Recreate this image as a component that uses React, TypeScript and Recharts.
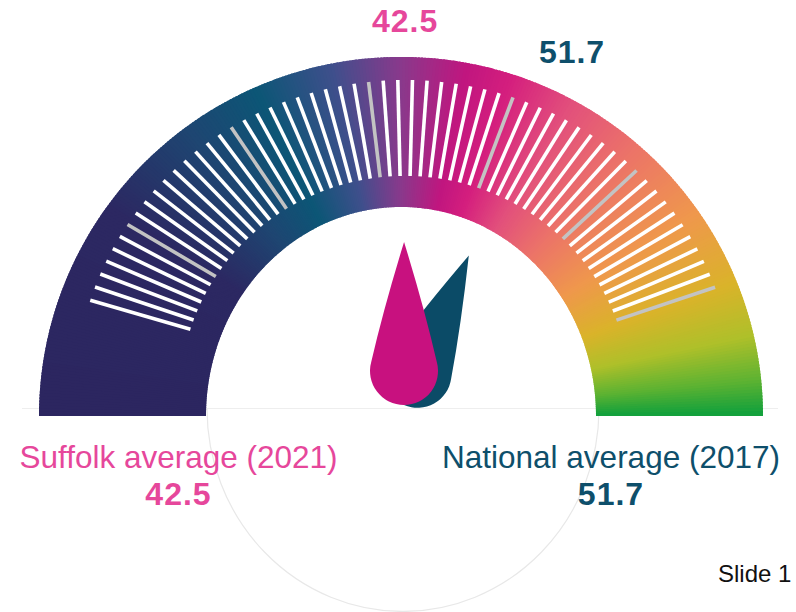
import React from 'react';
import { PieChart, Pie, RadialBarChart, RadialBar, PolarAngleAxis, Customized } from 'recharts';

// gauge readings
const gaugeNames = ['Suffolk average (2021)', 'National average (2017)'];
const gaugeValues = [42.5, 51.7];
const labelColors = ['#e6479b', '#0e4f6b'];
const needleColors = ['#c8117f', '#0b4b67'];

// dial scale: one tick per unit, grey tick every 10
const scaleMin = 14;
const scaleMax = 70;
const majorStep = 10;
const tickValues = Array.from({ length: scaleMax - scaleMin + 1 }, (_, i) => scaleMin + i);

// colour ramp of the dial band, left to right
const bandStopOffsets = [0, 0.2, 0.3, 0.37, 0.44, 0.5, 0.56, 0.6, 0.66, 0.73, 0.81, 0.88, 0.93, 0.97, 1];
const bandStopColors = [
  '#2c2660', '#2c2862', '#1e4672', '#0c5676', '#3f4f8c', '#883a8c', '#c0167f', '#d41e7e',
  '#e2507c', '#ec7468', '#ef984c', '#dab32a', '#aec02a', '#5cb232', '#10a03c',
];

const slideLabel = 'Slide 1';

const W = 796;
const H = 612;
const FONT = '"Liberation Sans", Arial, sans-serif';
const NO_MARGIN = { top: 0, right: 0, bottom: 0, left: 0 };

const rows = gaugeNames
  .map((name, i) => ({ name, value: gaugeValues[i], text: labelColors[i], fill: needleColors[i] }))
  .reverse(); // national drop sits behind the suffolk one

const rad = (deg: number) => (deg * Math.PI) / 180;

const hexToRgb = (hex: string) => [1, 3, 5].map((k) => parseInt(hex.slice(k, k + 2), 16));

const rampColor = (t: number) => {
  let i = 0;
  while (i < bandStopOffsets.length - 2 && t > bandStopOffsets[i + 1]) i++;
  const span = bandStopOffsets[i + 1] - bandStopOffsets[i];
  const f = Math.min(1, Math.max(0, (t - bandStopOffsets[i]) / span));
  const a = hexToRgb(bandStopColors[i]);
  const b = hexToRgb(bandStopColors[i + 1]);
  const c = a.map((v, k) => Math.round(v + (b[k] - v) * f));
  return `rgb(${c[0]},${c[1]},${c[2]})`;
};

// band drawn as many thin slices so the colour follows the angle
const BandShape = (props: any) => {
  const { cx, cy, startAngle, endAngle, innerRadius, outerRadius } = props;
  const orx = outerRadius;
  const ory = outerRadius * 0.992;
  const irx = innerRadius;
  const iry = innerRadius * 1.072;
  const steps = 360;
  const total = startAngle - endAngle;
  const pt = (a: number, rx: number, ry: number) =>
    `${cx + rx * Math.cos(rad(a))} ${cy - ry * Math.sin(rad(a))}`;
  const parts = [];
  for (let s = 0; s < steps; s++) {
    const a0 = startAngle - (total * s) / steps + (s === 0 ? 0 : 0.3);
    const a1 = startAngle - (total * (s + 1)) / steps;
    const t = (s + 0.5) / steps;
    const d = `M ${pt(a0, orx, ory)} A ${orx} ${ory} 0 0 1 ${pt(a1, orx, ory)} L ${pt(a1, irx, iry)} A ${irx} ${iry} 0 0 0 ${pt(a0, irx, iry)} Z`;
    parts.push(<path key={s} d={d} fill={rampColor(t)} />);
  }
  return <g>{parts}</g>;
};

// white ground under the dial, faint base line and the lower rim of the hub
const Backdrop = () => (
  <g>
    <rect x={0} y={408.5} width={W} height={H - 408.5} fill="#ffffff" />
    <line x1={22} y1={408.5} x2={778} y2={408.5} stroke="#eeeeee" strokeWidth={1.2} />
    <path d="M 207 408.5 A 196 203 0 0 0 599 408.5" fill="none" stroke="#e8e8e8" strokeWidth={1.2} />
    {rows
      .slice()
      .reverse()
      .map((r, i) => {
        const x = i === 0 ? 178.5 : 611;
        return (
          <g key={r.name} fontFamily={FONT} fill={r.text} textAnchor="middle">
            <text x={x} y={468} fontSize={31.5}>
              {r.name}
            </text>
            <text x={x} y={505} fontSize={32} fontWeight="bold" letterSpacing={1}>
              {r.value}
            </text>
          </g>
        );
      })}
    <text x={718} y={582} fontFamily={FONT} fontSize={24} fill="#111111">
      {slideLabel}
    </text>
  </g>
);

// dial ticks sit on an ellipse around the chart centre
const TickMark = (props: any) => {
  const { payload, cx = 405, cy = 395 } = props;
  const a = rad(payload.coordinate);
  const major = (payload.value - scaleMin) % majorStep === 6;
  const c = Math.cos(a);
  const s = Math.sin(a);
  return (
    <line
      x1={cx + 225 * c}
      y1={cy - 219 * s}
      x2={cx + 330 * c}
      y2={cy - 315 * s}
      stroke={major ? '#c3c3c3' : '#ffffff'}
      strokeWidth={3.6}
    />
  );
};

// drop-shaped pointer turned to the bar's end angle, value printed beyond the rim
const Needle = (props: any) => {
  const { cx, cy, endAngle, payload } = props;
  const px = cx - 1;
  const py = cy + 10;
  const L = 163;
  const R = 34;
  const d = L - R;
  const cosPhi = R / d;
  const sinPhi = Math.sqrt(1 - cosPhi * cosPhi);
  const tx = R * sinPhi;
  const ty = py - R - R * cosPhi;
  // sides bow out slightly between tip and bulb
  const mx = tx * 0.62;
  const my = (py - L + ty) / 2 + 6;
  const path =
    `M ${px} ${py - L} Q ${px + mx} ${my} ${px + tx} ${ty} ` +
    `A ${R} ${R} 0 1 1 ${px - tx} ${ty} Q ${px - mx} ${my} ${px} ${py - L} Z`;
  const tilt = 90 - endAngle;
  const lx = cx + 420 * Math.cos(rad(endAngle));
  const ly = cy - 374 * Math.sin(rad(endAngle));
  return (
    <g>
      <path d={path} fill={payload.fill} transform={`rotate(${tilt} ${px} ${py})`} />
      <text
        x={lx}
        y={ly + 11}
        textAnchor="middle"
        fontFamily={FONT}
        fontSize={32}
        fontWeight="bold"
        letterSpacing={1}
        fill={payload.text}
      >
        {payload.value}
      </text>
    </g>
  );
};

export default function App() {
  return (
    <div style={{ position: 'absolute', left: 0, top: 0, width: W, height: H, background: '#ffffff' }}>
      <div style={{ position: 'absolute', left: 0, top: 0 }}>
        <PieChart width={W} height={H} margin={NO_MARGIN}>
          <Pie
            data={[{ name: 'track', value: 1 }]}
            dataKey="value"
            cx={401}
            cy={416}
            startAngle={180}
            endAngle={0}
            innerRadius={195}
            outerRadius={362}
            stroke="none"
            shape={BandShape}
            activeShape={BandShape}
            inactiveShape={BandShape}
            isAnimationActive={false}
          />
          <Customized component={Backdrop} />
        </PieChart>
      </div>
      <div style={{ position: 'absolute', left: 0, top: 0 }}>
        <RadialBarChart
          width={W}
          height={H}
          margin={NO_MARGIN}
          cx={405}
          cy={395}
          startAngle={162.5}
          endAngle={20}
          innerRadius={0}
          outerRadius={330}
          data={rows}
        >
          <PolarAngleAxis
            type="number"
            domain={[scaleMin, scaleMax]}
            ticks={tickValues}
            tick={TickMark}
            tickLine={false}
            axisLine={false}
          />
          <RadialBar dataKey="value" shape={Needle} isAnimationActive={false} />
        </RadialBarChart>
      </div>
    </div>
  );
}
